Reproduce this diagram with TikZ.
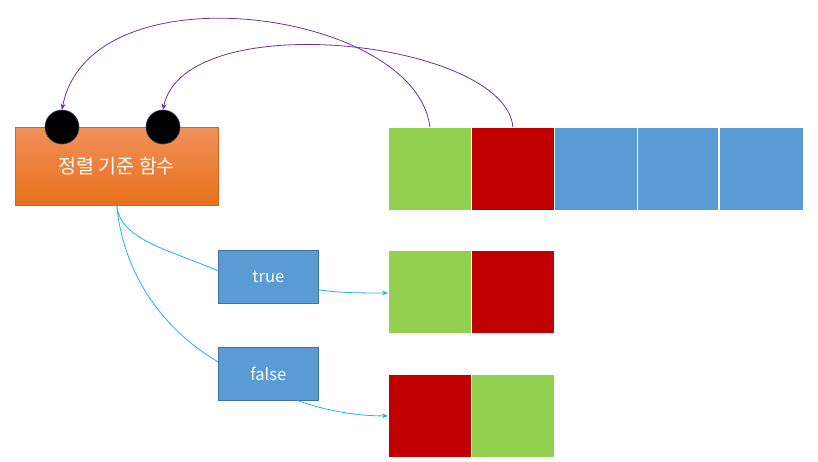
\documentclass[tikz,border=0pt]{standalone}
\usepackage{fontspec}
\setmainfont{Noto Sans CJK KR}
\usetikzlibrary{arrows.meta}
\definecolor{cgreen}{HTML}{92D050}
\definecolor{cred}{HTML}{C00000}
\definecolor{cblue}{HTML}{5B9BD5}
\definecolor{cblueb}{HTML}{41719C}
\definecolor{cpurple}{HTML}{7030A0}
\definecolor{ccyan}{HTML}{1EB4E6}
\definecolor{otop}{HTML}{F0905A}
\definecolor{obot}{HTML}{E8701C}
\begin{document}
\begin{tikzpicture}[x=1pt,y=-1pt,
  cell/.style={draw=white,line width=0.8pt,minimum width=83pt,minimum height=83pt,inner sep=0pt,anchor=north west},
  boolbox/.style={draw=cblueb,fill=cblue,line width=0.6pt,minimum width=100pt,minimum height=53pt,inner sep=0pt,anchor=north west,text=white,font=\fontsize{16.5}{18}\selectfont},
  dot/.style={circle,fill=black,draw=cblueb!60!black,line width=0.6pt,minimum size=34pt,inner sep=0pt},
  parr/.style={draw=cpurple,line width=0.8pt,-{Stealth[length=6pt,width=5pt]}},
  carr/.style={draw=ccyan,line width=0.8pt},
  carrh/.style={carr,-{Stealth[length=6pt,width=5pt]}}]
\useasboundingbox (0,0) rectangle (818,462);
% sort function box
\node[anchor=north west,minimum width=203pt,minimum height=78pt,inner sep=0pt,
  top color=otop,bottom color=obot,draw=obot!90!black,line width=0.5pt,
  text=white,font=\fontsize{19.5}{22}\selectfont] (fn) at (15,127) {정렬 기준 함수};
\node[dot] (c1) at (62,127) {};
\node[dot] (c2) at (163,127) {};
% top row
\node[cell,fill=cgreen] (a1) at (388,127) {};
\node[cell,fill=cred]   (a2) at (471,127) {};
\node[cell,fill=cblue]  (a3) at (554,127) {};
\node[cell,fill=cblue,minimum width=81pt]  (a4) at (637,127) {};
\node[cell,fill=cblue,minimum width=84pt]  (a5) at (719,127) {};
% row 2
\node[cell,fill=cgreen] (b1) at (388,250) {};
\node[cell,fill=cred]   (b2) at (471,250) {};
% row 3
\node[cell,fill=cred]   (d1) at (388,374) {};
\node[cell,fill=cgreen] (d2) at (471,374) {};
% bool boxes
\node[boolbox] (tb) at (218,250) {true};
\node[boolbox] (fb) at (218,347) {false};
% purple arrows
\draw[parr] (a1.north) .. controls (416,10) and (90,-35) .. (c1.north);
\draw[parr] (a2.north) .. controls (505,40) and (185,5) .. (c2.north);
% cyan connectors
\draw[carr] (fn.south) .. controls (120,240) and (170,250) .. ([yshift=6pt]tb.west);
\draw[carr] (fn.south) .. controls (125,290) and (180,340) .. ([yshift=12pt]fb.west);
\draw[carrh] ([yshift=-13pt]tb.east) .. controls (340,293) and (360,293) .. ([yshift=-1pt]b1.west);
\draw[carrh] ([xshift=-21pt]fb.south east) .. controls (330,412) and (360,416) .. (d1.west);
\end{tikzpicture}
\end{document}
